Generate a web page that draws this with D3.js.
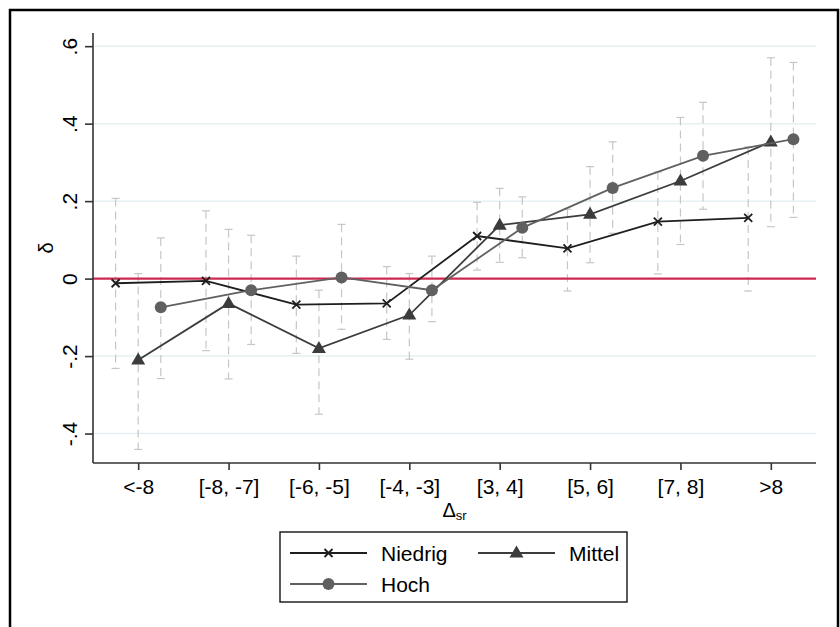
<!DOCTYPE html>
<html><head><meta charset="utf-8">
<script src="https://cdn.jsdelivr.net/npm/d3@7"></script>
<style>html,body{margin:0;padding:0;background:#fff;}svg{display:block;font-family:"Liberation Sans",Arial,sans-serif;}</style>
</head><body><svg id="c" width="840" height="627"></svg>
<script>
const categories = ["<-8","[-8, -7]","[-6, -5]","[-4, -3]","[3, 4]","[5, 6]","[7, 8]",">8"];
const yTicks = [-0.4,-0.2,0,0.2,0.4,0.6];
const yTickLabels = ["-.4","-.2","0",".2",".4",".6"];
const seriesNames = ["Niedrig","Mittel","Hoch"];
const niedrigVal = [-0.012,-0.006,-0.067,-0.064,0.110,0.078,0.147,0.157];
const niedrigLo  = [-0.232,-0.186,-0.193,-0.157,0.022,-0.032,0.012,-0.032];
const niedrigHi  = [0.207,0.175,0.058,0.031,0.197,0.179,0.275,0.340];
const mittelVal = [-0.210,-0.064,-0.180,-0.094,0.138,0.166,0.252,0.353];
const mittelLo  = [-0.441,-0.259,-0.350,-0.208,0.042,0.041,0.088,0.134];
const mittelHi  = [0.013,0.127,-0.030,0.013,0.233,0.289,0.416,0.570];
const hochVal = [-0.074,-0.030,0.003,-0.030,0.131,0.234,0.317,0.360];
const hochLo  = [-0.258,-0.170,-0.131,-0.111,0.054,0.117,0.179,0.158];
const hochHi  = [0.105,0.112,0.140,0.058,0.211,0.353,0.455,0.558];

const series = [
  {name:seriesNames[0], val:niedrigVal, lo:niedrigLo, hi:niedrigHi, off:-0.25, color:"#1e1e1e", marker:"x"},
  {name:seriesNames[1], val:mittelVal, lo:mittelLo, hi:mittelHi, off:0, color:"#3c3c3c", marker:"tri"},
  {name:seriesNames[2], val:hochVal, lo:hochLo, hi:hochHi, off:0.25, color:"#606060", marker:"circ"}
];

const svg = d3.select("#c");
const FF = "Liberation Sans, Arial, sans-serif";
const L=93, R=816, T=33, B=463;
const x = d3.scalePoint().domain(categories).range([L,R]).padding(0.5);
const step = x.step();
const y = d3.scaleLinear().domain([-0.476,0.634]).range([B,T]);

// outer frame
svg.append("rect").attr("x",10).attr("y",10).attr("width",828).attr("height",640)
  .attr("fill","none").attr("stroke","#000").attr("stroke-width",2.5);

// grid
svg.append("g").selectAll("line").data(yTicks.filter(d=>d!==0)).join("line")
  .attr("x1",L).attr("x2",R).attr("y1",d=>y(d)).attr("y2",d=>y(d))
  .attr("stroke","#e6eff1").attr("stroke-width",1.5);

// error bars
const eb = svg.append("g");
series.forEach(s=>{
  categories.forEach((c,i)=>{
    const cx = x(c)+s.off*step;
    eb.append("line").attr("x1",cx).attr("x2",cx).attr("y1",y(s.hi[i])).attr("y2",y(s.lo[i]))
      .attr("stroke","#c6c6c6").attr("stroke-width",1.2).attr("stroke-dasharray","8,5");
    [s.hi[i],s.lo[i]].forEach(v=>{
      eb.append("line").attr("x1",cx-4).attr("x2",cx+4).attr("y1",y(v)).attr("y2",y(v))
        .attr("stroke","#c6c6c6").attr("stroke-width",1.2);
    });
  });
});

// zero line
svg.append("line").attr("x1",L).attr("x2",R).attr("y1",y(0)).attr("y2",y(0))
  .attr("stroke","#cc2a50").attr("stroke-width",2.2);

// axes
const yAxis = d3.axisLeft(y).tickValues(yTicks).tickFormat((d,i)=>yTickLabels[i]).tickSize(8);
const gy = svg.append("g").attr("transform",`translate(${L},0)`).call(yAxis);
gy.select(".domain").attr("d",`M0,${T}V${B}`).attr("stroke","#333").attr("stroke-width",1.6);
gy.selectAll(".tick line").attr("stroke","#333").attr("stroke-width",1.6);
gy.selectAll(".tick text").attr("x",0).attr("y",0).attr("dy",null)
  .attr("transform","translate(-16,0) rotate(-90)").attr("text-anchor","middle")
  .attr("font-size",21).attr("fill","#000").attr("font-family",FF);

const xAxis = d3.axisBottom(x).tickSize(7);
const gx = svg.append("g").attr("transform",`translate(0,${B})`).call(xAxis);
gx.select(".domain").attr("d",`M${L},0H${R}`).attr("stroke","#333").attr("stroke-width",1.6);
gx.selectAll(".tick line").attr("stroke","#333").attr("stroke-width",1.6);
gx.selectAll(".tick text").attr("y",31).attr("dy",null)
  .attr("font-size",21).attr("fill","#000").attr("font-family",FF);

// axis titles
svg.append("text").attr("transform",`translate(53,${(T+B)/2}) rotate(-90)`).attr("text-anchor","middle")
  .attr("font-size",20).attr("fill","#000").attr("font-family",FF).text("δ");
const xt = svg.append("text").attr("x",(L+R)/2).attr("y",517).attr("text-anchor","middle")
  .attr("font-size",20).attr("fill","#000").attr("font-family",FF);
xt.append("tspan").text("Δ");
xt.append("tspan").attr("font-size",13).attr("dy",3).text("sr");

// series lines
const line = d3.line();
function drawMarker(g, type, cx, cy, color){
  if(type==="x"){
    const r=4;
    g.append("path").attr("d",`M${cx-r},${cy-r}L${cx+r},${cy+r}M${cx-r},${cy+r}L${cx+r},${cy-r}`)
      .attr("stroke",color).attr("stroke-width",1.8).attr("fill","none");
  } else if(type==="tri"){
    const h=12, w=14;
    g.append("path").attr("d",`M${cx},${cy-h*0.62}L${cx+w/2},${cy+h*0.38}L${cx-w/2},${cy+h*0.38}Z`).attr("fill",color);
  } else {
    g.append("circle").attr("cx",cx).attr("cy",cy).attr("r",6).attr("fill",color);
  }
}
series.forEach(s=>{
  const pts = categories.map((c,i)=>[x(c)+s.off*step, y(s.val[i])]);
  svg.append("path").attr("d",line(pts)).attr("fill","none").attr("stroke",s.color).attr("stroke-width",1.8);
  const g = svg.append("g");
  pts.forEach(p=>drawMarker(g,s.marker,p[0],p[1],s.color));
});

// legend
const lg = svg.append("g");
lg.append("rect").attr("x",280).attr("y",532).attr("width",347).attr("height",70)
  .attr("fill","#fff").attr("stroke","#000").attr("stroke-width",1.3);
const legPos = [[290,553],[478,553],[290,584]];
series.forEach((s,i)=>{
  const [lx,ly]=legPos[i];
  lg.append("line").attr("x1",lx).attr("x2",lx+77).attr("y1",ly).attr("y2",ly).attr("stroke",s.color).attr("stroke-width",1.8);
  drawMarker(lg,s.marker,lx+38.5,ly,s.color);
  lg.append("text").attr("x",lx+91).attr("y",ly+7.5).attr("font-size",21).attr("fill","#000").attr("font-family",FF).text(s.name);
});
</script></body></html>
